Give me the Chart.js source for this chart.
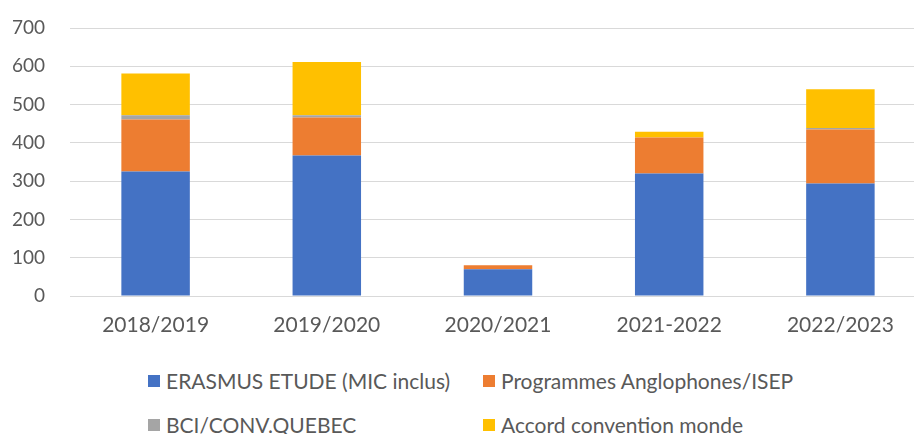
<!DOCTYPE html>
<html>
<head>
<meta charset="utf-8">
<script src="https://cdn.jsdelivr.net/npm/chart.js@4.4.0/dist/chart.umd.min.js"></script>
<style>
  body { margin: 0; background: #fff; overflow: hidden; width: 914px; height: 434px; position: relative; }
  #chart { position: absolute; left: 0; top: 0; }
  .legend-item { position: absolute; font-family: Lato, sans-serif; font-size: 21px; color: #595959; white-space: nowrap; height: 24px; line-height: 24px; }
  .legend-item span.box { position: absolute; left: 0; top: 6px; width: 12px; height: 12px; }
  .legend-item span.txt { position: absolute; left: 18px; top: 0; }
</style>
</head>
<body>
<canvas id="chart" width="926" height="350"></canvas>
<div id="legend"></div>

<script>
// ===============================
// DATA
// ===============================
const years = ["2018/2019", "2019/2020", "2020/2021", "2021-2022", "2022/2023"];
const erasmus = [325, 367, 70, 320, 294];
const anglophones = [136, 99, 10, 94, 141];
const quebec = [11, 6, 0, 0, 4];
const monde = [109, 139, 0, 15, 101];
const yTicks = [0, 100, 200, 300, 400, 500, 600, 700];

const seriesNames = ["ERASMUS ETUDE (MIC inclus)", "Programmes Anglophones/ISEP", "BCI/CONV.QUEBEC", "Accord convention monde"];
const colors = ["#4472C4", "#ED7D31", "#A5A5A5", "#FFC000"];

// ===============================
// CHART
// ===============================
new Chart(document.getElementById("chart"), {
  type: "bar",
  data: {
    labels: years,
    datasets: [erasmus, anglophones, quebec, monde].map((d, i) => ({
      label: seriesNames[i],
      data: d,
      backgroundColor: colors[i],
      borderWidth: 0,
      barPercentage: 0.4,
      categoryPercentage: 1
    }))
  },
  options: {
    responsive: false,
    animation: false,
    devicePixelRatio: 1,
    layout: { padding: { top: 28, right: 0, left: 0, bottom: 0 } },
    plugins: { legend: { display: false }, tooltip: { enabled: false } },
    scales: {
      x: {
        stacked: true,
        grid: { display: false, drawTicks: false },
        border: { display: false },
        ticks: { color: "#595959", font: { family: "Lato", size: 21 }, padding: 17 },
        afterFit: (axis) => { axis.height = 54; }
      },
      y: {
        stacked: true,
        min: 0,
        max: 700,
        afterBuildTicks: (axis) => { axis.ticks = yTicks.map(v => ({ value: v })); },
        grid: { color: "#D9D9D9", lineWidth: 1, drawTicks: false },
        border: { display: false },
        ticks: { color: "#595959", font: { family: "Lato", size: 19 }, padding: 25 },
        // fixed width, and no extra top/bottom space from the tick padding
        afterFit: (axis) => { axis.width = 70; axis.paddingTop = 0; axis.paddingBottom = 0; }
      }
    }
  }
});

// ===============================
// LEGEND
// ===============================
const legendPos = [[148, 369], [483, 369], [148, 413], [483, 413]];
const legendEl = document.getElementById("legend");
seriesNames.forEach((name, i) => {
  const div = document.createElement("div");
  div.className = "legend-item";
  div.style.left = legendPos[i][0] + "px";
  div.style.top = legendPos[i][1] + "px";
  div.innerHTML = `<span class="box" style="background:${colors[i]}"></span><span class="txt">${name}</span>`;
  legendEl.appendChild(div);
});
</script>
</body>
</html>
